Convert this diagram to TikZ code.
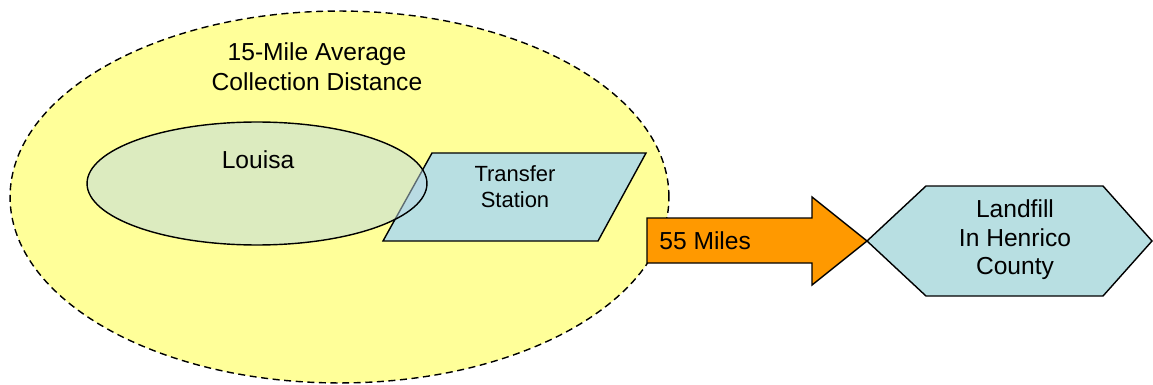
\documentclass[tikz,border=0pt]{standalone}
\usepackage{fontspec}
\setmainfont{Liberation Sans}
\usetikzlibrary{shapes.geometric}

\definecolor{zoneyellow}{HTML}{FFFF99}
\definecolor{boxblue}{HTML}{B8DFE2}
\definecolor{areagreen}{RGB}{187,216,229}
\definecolor{haulorange}{HTML}{FF9900}

\begin{document}
\begin{tikzpicture}[
    x=0.02cm, y=-0.02cm,
    outline/.style={draw=black, line width=0.8pt, line join=miter},
    zone/.style={ellipse, outline, dash pattern=on 4pt off 2.6pt,
        fill=zoneyellow, minimum width=13.18cm, minimum height=7.44cm, inner sep=0pt},
    area/.style={ellipse, outline, fill=areagreen, fill opacity=0.5, text opacity=1,
        minimum width=6.8cm, minimum height=2.46cm, inner sep=0pt},
    label/.style={align=center, inner sep=0pt, font=\fontsize{14}{17}\selectfont}]

\useasboundingbox (0,0) rectangle (1153,385);

% collection zone
\node[zone] (zone) at (339.5,197) {};
\node[label] (zonetext) at (317,67) {15-Mile Average\\Collection Distance};

% transfer station (parallelogram)
\coordinate (ts nw) at (432,153);
\coordinate (ts ne) at (646,153);
\coordinate (ts se) at (598,241);
\coordinate (ts sw) at (383,241);
\draw[outline, fill=boxblue] (ts nw) -- (ts ne) -- (ts se) -- (ts sw) -- cycle;
\node[label, font=\fontsize{12.5}{14.7}\selectfont] (transfer) at (515,187) {Transfer\\Station};

% county on top, lets the station show through
\node[area] (louisa) at (257,183.5) {};
\node[label] (louisatext) at (258,160) {Louisa};

% haul to the landfill
\coordinate (tip) at (867,241);
\draw[outline, fill=haulorange] (647,218) -- (812,218) -- (812,197) -- (tip)
    -- (812,285) -- (812,263) -- (647,263) -- cycle;
\node[label, anchor=west] (haul) at (659,241) {55 Miles};

% landfill (hexagon)
\draw[outline, fill=boxblue] (tip) -- (926,186) -- (1103,186) -- (1152,241)
    -- (1103,296) -- (926,296) -- cycle;
\node[label, font=\fontsize{14}{16.3}\selectfont] (landfill) at (1015,240) {Landfill\\In Henrico\\County};
\end{tikzpicture}
\end{document}
